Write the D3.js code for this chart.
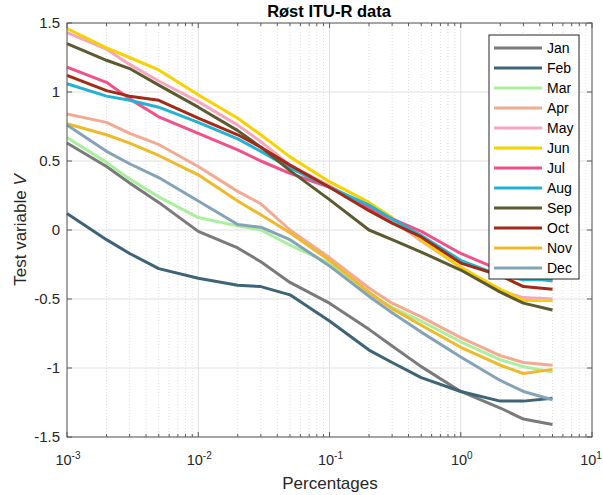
<!DOCTYPE html>
<html>
<head>
<meta charset="utf-8">
<script src="https://cdn.jsdelivr.net/npm/d3@7"></script>
<style>
  body { margin: 0; background: #fff; }
  text { font-family: Arial, "Liberation Sans", sans-serif; }
</style>
</head>
<body>
<div id="viz"></div>
<script>
// percentages of time (x) and test variable V per month
var pcts = [0.001,0.002,0.003,0.005,0.01,0.02,0.03,0.05,0.1,0.2,0.3,0.5,1,2,3,5];
var months = ["Jan","Feb","Mar","Apr","May","Jun","Jul","Aug","Sep","Oct","Nov","Dec"];
var jan = [0.63,0.46,0.34,0.20,-0.01,-0.13,-0.23,-0.38,-0.53,-0.72,-0.84,-0.99,-1.17,-1.29,-1.37,-1.41];
var feb = [0.12,-0.07,-0.17,-0.28,-0.35,-0.40,-0.41,-0.47,-0.66,-0.87,-0.96,-1.07,-1.17,-1.24,-1.24,-1.22];
var mar = [0.67,0.49,0.37,0.24,0.09,0.03,0.00,-0.11,-0.24,-0.46,-0.56,-0.66,-0.81,-0.94,-0.99,-1.03];
var apr = [0.84,0.78,0.70,0.62,0.46,0.28,0.19,0.00,-0.20,-0.42,-0.53,-0.63,-0.78,-0.91,-0.96,-0.98];
var may = [1.43,1.31,1.20,1.08,0.93,0.76,0.64,0.47,0.32,0.16,0.07,-0.08,-0.27,-0.44,-0.49,-0.50];
var jun = [1.46,1.32,1.25,1.16,0.98,0.81,0.69,0.53,0.35,0.20,0.09,-0.07,-0.27,-0.43,-0.51,-0.51];
var jul = [1.18,1.07,0.95,0.82,0.70,0.58,0.50,0.41,0.31,0.16,0.08,-0.01,-0.17,-0.29,-0.34,-0.37];
var aug = [1.06,0.97,0.94,0.89,0.78,0.66,0.57,0.45,0.31,0.18,0.08,-0.04,-0.22,-0.33,-0.36,-0.36];
var sep = [1.35,1.23,1.17,1.05,0.89,0.72,0.60,0.43,0.22,0.00,-0.07,-0.16,-0.29,-0.45,-0.53,-0.58];
var oct = [1.12,1.01,0.97,0.94,0.81,0.69,0.60,0.47,0.31,0.14,0.05,-0.05,-0.24,-0.33,-0.41,-0.43];
var nov = [0.77,0.69,0.63,0.54,0.40,0.21,0.11,-0.02,-0.22,-0.45,-0.57,-0.69,-0.85,-0.98,-1.04,-1.01];
var dec = [0.76,0.57,0.48,0.38,0.21,0.04,0.02,-0.07,-0.26,-0.48,-0.60,-0.74,-0.92,-1.09,-1.17,-1.23];
var yTicks = [-1.5,-1,-0.5,0,0.5,1,1.5];
var xTicks = [-3,-2,-1,0,1];

var series = [jan,feb,mar,apr,may,jun,jul,aug,sep,oct,nov,dec];
var colors = ["#7a7a7a","#3e6477","#a9ef9d","#f2ab92","#f7a6bd","#f7d200",
              "#f2508a","#22b2d6","#5c5a30","#a32a14","#f0b92c","#85a3b6"];

var W = 603, H = 495;
var pL = 67, pT = 23, pR = 592, pB = 437;

var svg = d3.select("#viz").append("svg")
    .attr("width", W)
    .attr("height", H);

var x = d3.scaleLog().domain([1e-3, 10]).range([pL, pR]);
var y = d3.scaleLinear().domain([-1.5, 1.5]).range([pB, pT]);

// minor values 2..9 per decade
var minor = [];
xTicks.slice(0, -1).forEach(function(e){
    for (var k = 2; k <= 9; k++) minor.push(k * Math.pow(10, e));
});

var grid = svg.append("g");
grid.selectAll(".minor").data(minor).enter().append("line")
    .attr("x1", function(d){ return x(d); }).attr("x2", function(d){ return x(d); })
    .attr("y1", pT).attr("y2", pB)
    .style("stroke", "#d4d4d4").style("stroke-width", 0.8)
    .style("stroke-dasharray", "1,2");
grid.selectAll(".xmaj").data(xTicks).enter().append("line")
    .attr("x1", function(d){ return x(Math.pow(10, d)); })
    .attr("x2", function(d){ return x(Math.pow(10, d)); })
    .attr("y1", pT).attr("y2", pB)
    .style("stroke", "#e0e0e0").style("stroke-width", 1);
grid.selectAll(".ymaj").data(yTicks).enter().append("line")
    .attr("x1", pL).attr("x2", pR)
    .attr("y1", function(d){ return y(d); }).attr("y2", function(d){ return y(d); })
    .style("stroke", "#e0e0e0").style("stroke-width", 1);

// lines
var line = d3.line()
    .x(function(d, i){ return x(pcts[i]); })
    .y(function(d){ return y(d); });

svg.append("g").selectAll("path")
    .data(series)
    .enter().append("path")
    .attr("d", line)
    .style("fill", "none")
    .style("stroke", function(d, i){ return colors[i]; })
    .style("stroke-width", 3)
    .style("stroke-linejoin", "round");

// box and inward ticks
var axc = "#5a5a5a";
svg.append("rect")
    .attr("x", pL).attr("y", pT)
    .attr("width", pR - pL).attr("height", pB - pT)
    .style("fill", "none").style("stroke", axc).style("stroke-width", 1);

var ticks = svg.append("g").style("stroke", axc).style("stroke-width", 1);
xTicks.forEach(function(e){
    var px = x(Math.pow(10, e));
    ticks.append("line").attr("x1", px).attr("x2", px).attr("y1", pB).attr("y2", pB - 5);
    ticks.append("line").attr("x1", px).attr("x2", px).attr("y1", pT).attr("y2", pT + 5);
});
minor.forEach(function(d){
    var px = x(d);
    ticks.append("line").attr("x1", px).attr("x2", px).attr("y1", pB).attr("y2", pB - 3);
    ticks.append("line").attr("x1", px).attr("x2", px).attr("y1", pT).attr("y2", pT + 3);
});
yTicks.forEach(function(v){
    var py = y(v);
    ticks.append("line").attr("x1", pL).attr("x2", pL + 5).attr("y1", py).attr("y2", py);
    ticks.append("line").attr("x1", pR).attr("x2", pR - 5).attr("y1", py).attr("y2", py);
});

// tick labels
svg.append("g").selectAll("text")
    .data(yTicks).enter().append("text")
    .attr("x", pL - 7)
    .attr("y", function(d){ return y(d) + 5; })
    .attr("text-anchor", "end")
    .style("font-size", "15px").style("fill", "#262626")
    .text(function(d){ return d; });

var xl = svg.append("g").selectAll("text")
    .data(xTicks).enter().append("text")
    .attr("x", function(d, i){ return x(Math.pow(10, d)) + (i == xTicks.length - 1 ? -1 : 1); })
    .attr("y", 465)
    .attr("text-anchor", "middle")
    .style("font-size", "14.5px").style("fill", "#262626");
xl.append("tspan").text("10");
xl.append("tspan").attr("dy", -6).style("font-size", "10px")
    .text(function(d){ return d; });

// title and axis labels
svg.append("text")
    .attr("x", 329).attr("y", 17)
    .attr("text-anchor", "middle")
    .style("font-size", "16.5px").style("font-weight", "bold").style("fill", "#000")
    .text("Røst ITU-R data");

svg.append("text")
    .attr("x", 330).attr("y", 489)
    .attr("text-anchor", "middle")
    .style("font-size", "17px").style("fill", "#262626")
    .text("Percentages");

var yl = svg.append("text")
    .attr("transform", "translate(26," + ((pT + pB) / 2) + ") rotate(-90)")
    .attr("text-anchor", "middle")
    .style("font-size", "17px").style("fill", "#262626");
yl.append("tspan").text("Test variable ");
yl.append("tspan").style("font-style", "italic").text("V");

// legend
var lg = svg.append("g");
lg.append("rect")
    .attr("x", 489).attr("y", 35)
    .attr("width", 90).attr("height", 244)
    .style("fill", "#fff").style("stroke", "#262626").style("stroke-width", 1);
var items = lg.selectAll("g.item").data(months).enter().append("g")
    .attr("transform", function(d, i){ return "translate(0," + (48 + i * 20) + ")"; });
items.append("line")
    .attr("x1", 494).attr("x2", 542).attr("y1", 0).attr("y2", 0)
    .style("stroke", function(d, i){ return colors[i]; })
    .style("stroke-width", 3);
items.append("text")
    .attr("x", 547).attr("y", 5)
    .style("font-size", "14px").style("fill", "#000")
    .text(function(d){ return d; });
</script>
</body>
</html>
